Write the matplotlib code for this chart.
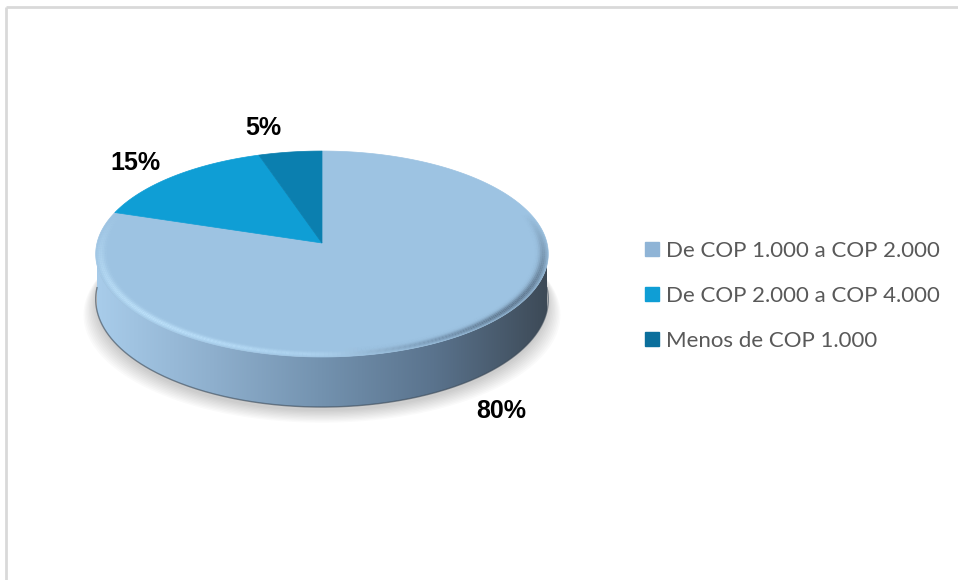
import numpy as np
import matplotlib.pyplot as plt
from matplotlib.patches import Polygon
from matplotlib.lines import Line2D
from matplotlib.colors import LinearSegmentedColormap

# datos del grafico
categorias = ['De COP 1.000 a COP 2.000', 'De COP 2.000 a COP 4.000', 'Menos de COP 1.000']
porcentajes = [80, 15, 5]
etiquetas = ['80%', '15%', '5%']
colores = ['#9DC3E2', '#0F9ED5', '#0B7FAF']

fig = plt.figure(figsize=(9.58, 5.8), dpi=100)
ax = fig.add_axes([0, 0, 1, 1])
ax.set_xlim(0, 958)
ax.set_ylim(580, 0)
ax.axis('off')

# marco gris del area del grafico
ax.plot([6.5, 6.5], [6.5, 580], color='#D9D9D9', lw=2, solid_capstyle='butt')
ax.plot([6.5, 958], [6.5, 6.5], color='#D9D9D9', lw=2, solid_capstyle='butt')

# geometria del pastel 3D (perspectiva simple)
cx, cy = 322, 243
A, B, c, h = 225, 101.8, 0.107, 44.7


def proy(ang, r=1.0, z=0.0):
    u = r * np.cos(ang)
    v = r * np.sin(ang)
    d = 1 + c * v
    return cx + A * u / d, cy + (-B * v + z * h) / d


# sombra difusa bajo el pastel
tt = np.linspace(0, 2 * np.pi, 400)
for i in range(10):
    s = 1 + 0.006 * i
    pts = [(cx + (x - cx) * s, y + 4 + 1.3 * i) for x, y in (proy(t, 1, 1) for t in tt)]
    ax.add_patch(Polygon(pts, closed=True, fc='#000000', ec='none', alpha=0.018, zorder=1))

# lado frontal con degradado horizontal (imagen recortada)
cm_lado = LinearSegmentedColormap.from_list(
    'lado', ['#A8CCEA', '#8FB0CE', '#7392AF', '#5A738D', '#3D4A57'])
ts = np.linspace(np.pi, 2 * np.pi, 300)
borde_sup = [proy(t, 1, 0) for t in ts]
borde_inf = [proy(t, 1, 1) for t in ts[::-1]]
lado = Polygon(borde_sup + borde_inf, closed=True, fc='none', ec='none')
ax.add_patch(lado)
grad = np.linspace(0, 1, 256).reshape(1, -1)
img = ax.imshow(grad, cmap=cm_lado, aspect='auto', extent=(cx - A, cx + A, 420, 230),
                zorder=2, interpolation='bicubic')
img.set_clip_path(lado)
ax.plot(*zip(*[proy(t, 1, 1) for t in ts]), color='#3A4856', lw=1.0, alpha=0.6, zorder=2.5)
ax.set_xlim(0, 958)
ax.set_ylim(580, 0)

# caras superiores de las porciones
limites = 90 - 360 * np.concatenate([[0], np.cumsum(porcentajes)]) / 100
for k in range(len(porcentajes)):
    a0, a1 = np.radians(limites[k]), np.radians(limites[k + 1])
    ang = np.linspace(a0, a1, 300)
    pts = [(cx, cy)] + [proy(a) for a in ang]
    ax.add_patch(Polygon(pts, closed=True, fc=colores[k], ec=colores[k], lw=0.5, zorder=3))

# bisel del borde frontal
cm_bisel = LinearSegmentedColormap.from_list(
    'bisel', ['#C6E9FF', '#BDE2FC', '#AED3EF', '#7391AD', '#3F5063'])
tb = np.linspace(np.radians(-200), np.radians(20), 220)
radios = np.linspace(0.93, 1.0, 11)
for r0, r1 in zip(radios[:-1], radios[1:]):
    rm = (r0 + r1) / 2
    perfil = np.exp(-((rm - 0.978) / 0.018) ** 2)
    for t0, t1 in zip(tb[:-1], tb[1:]):
        p = [proy(t0, r0), proy(t1, r0), proy(t1, r1), proy(t0, r1)]
        xm = (p[0][0] + p[1][0]) / 2
        fx = np.clip((xm - (cx - A)) / (2 * A), 0, 1)
        tm = (t0 + t1) / 2
        peso = np.clip(-np.sin(tm) + 0.3, 0, 1) * perfil * 0.9
        ax.add_patch(Polygon(p, closed=True, fc=cm_bisel(fx), ec='none', alpha=peso, zorder=4))

# etiquetas de datos
ajustes = [(-6, 2), (-5, 2), (-20, -4)]
for k in range(len(porcentajes)):
    mid = np.radians((limites[k] + limites[k + 1]) / 2)
    z = 1 if np.sin(mid) < 0 else 0
    x, y = proy(mid, 1.25, z)
    ax.text(x + ajustes[k][0], y + ajustes[k][1], etiquetas[k], ha='center', va='center',
            fontsize=18, fontweight='bold', family='Liberation Sans', color='#000000', zorder=6)

# leyenda
manejadores = [Line2D([], [], marker='s', ls='none', markersize=10, mfc=col,
                      mec=col) for col in ['#8FB4D6', '#0F9ED5', '#0B6F9C']]
ax.legend(manejadores, categorias, loc='center left', bbox_to_anchor=(634 / 958, 1 - 296 / 580),
          frameon=False, handlelength=0.6, handletextpad=0.35, labelspacing=1.12,
          prop={'family': 'Lato', 'size': 16}, labelcolor='#595959', borderpad=0)

plt.savefig('out.png', dpi=100)
